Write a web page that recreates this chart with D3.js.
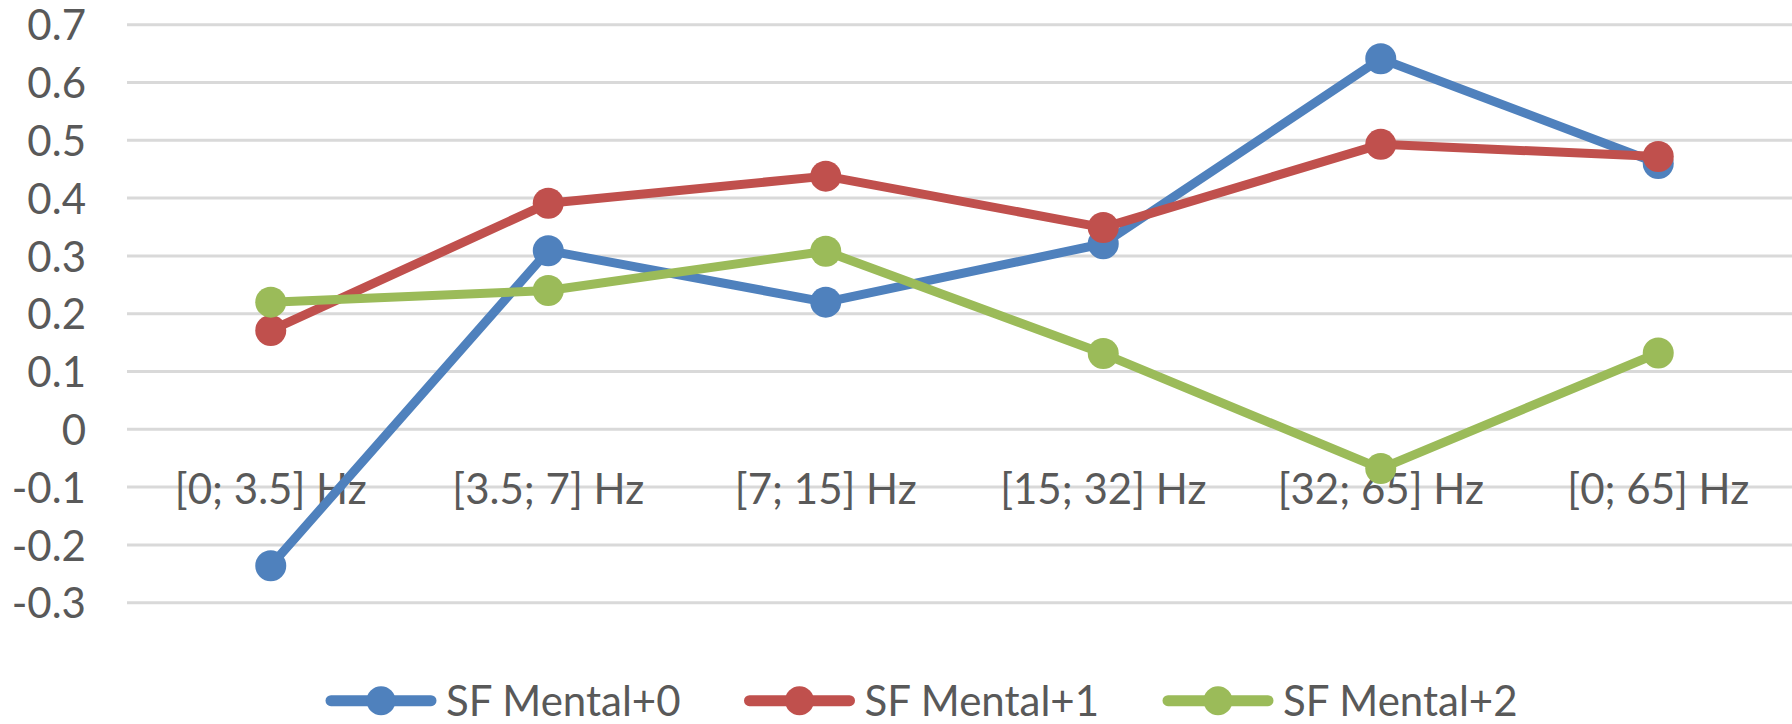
<!DOCTYPE html>
<html>
<head>
<meta charset="utf-8">
<script src="https://cdn.jsdelivr.net/npm/d3@7"></script>
<style>
  html, body { margin: 0; padding: 0; background: #fff; }
  svg { display: block; }
  text { font-family: Lato, "Noto Sans", sans-serif; fill: #595959; }
</style>
</head>
<body>
<svg id="chart" width="1792" height="724"></svg>
<script>
// Frequency bands on the x axis
const categories = ["[0; 3.5] Hz", "[3.5; 7] Hz", "[7; 15] Hz", "[15; 32] Hz", "[32; 65] Hz", "[0; 65] Hz"];

// Series names and their values per band
const seriesNames = ["SF Mental+0", "SF Mental+1", "SF Mental+2"];
const mental0 = [-0.236, 0.309, 0.220, 0.321, 0.641, 0.460];
const mental1 = [0.171, 0.391, 0.438, 0.349, 0.493, 0.472];
const mental2 = [0.220, 0.240, 0.308, 0.131, -0.068, 0.132];
const seriesColors = ["#4F81BD", "#C0504D", "#9BBB59"];

// Value axis ticks and their labels
const yTickValues = [-0.3, -0.2, -0.1, 0, 0.1, 0.2, 0.3, 0.4, 0.5, 0.6, 0.7];
const yTickLabels = ["-0.3", "-0.2", "-0.1", "0", "0.1", "0.2", "0.3", "0.4", "0.5", "0.6", "0.7"];

const series = seriesNames.map((name, i) => ({
  name,
  color: seriesColors[i],
  values: [mental0, mental1, mental2][i]
}));

const width = 1792, height = 724;
const plot = { left: 127, right: 1792, top: 24.7, bottom: 602.7 };

const svg = d3.select("#chart");

const x = d3.scaleBand()
  .domain(categories)
  .range([132, 1797]);
const cx = c => x(c) + x.bandwidth() / 2;

const y = d3.scaleLinear()
  .domain([-0.3, 0.7])
  .range([plot.bottom, plot.top]);

// Horizontal gridlines
svg.append("g")
  .selectAll("line")
  .data(yTickValues)
  .join("line")
  .attr("x1", plot.left)
  .attr("x2", plot.right)
  .attr("y1", d => y(d))
  .attr("y2", d => y(d))
  .attr("stroke", "#D9D9D9")
  .attr("stroke-width", 3);

// Value axis labels
const yAxis = d3.axisLeft(y)
  .tickValues(yTickValues)
  .tickFormat((d, i) => yTickLabels[i])
  .tickSize(0)
  .tickPadding(0);
const gy = svg.append("g")
  .attr("transform", "translate(86,0)")
  .call(yAxis);
gy.select(".domain").remove();
gy.selectAll("text")
  .attr("font-family", "Lato, 'Noto Sans', sans-serif")
  .attr("font-size", 42)
  .attr("fill", "#595959")
  .attr("dy", "0.36em");

// Category labels, placed just below the zero line
const xAxis = d3.axisBottom(x).tickSize(0).tickPadding(0);
const gx = svg.append("g")
  .attr("transform", `translate(0,${y(0) + 75})`)
  .call(xAxis);
gx.select(".domain").remove();
gx.selectAll("text")
  .attr("font-family", "Lato, 'Noto Sans', sans-serif")
  .attr("font-size", 42)
  .attr("fill", "#595959")
  .attr("dy", 0);

// Lines with markers, one series after another
const line = d3.line()
  .x((d, i) => cx(categories[i]))
  .y(d => y(d));

series.forEach(s => {
  const g = svg.append("g");
  g.append("path")
    .datum(s.values)
    .attr("d", line)
    .attr("fill", "none")
    .attr("stroke", s.color)
    .attr("stroke-width", 9)
    .attr("stroke-linejoin", "round")
    .attr("stroke-linecap", "round");
  g.selectAll("circle")
    .data(s.values)
    .join("circle")
    .attr("cx", (d, i) => cx(categories[i]))
    .attr("cy", d => y(d))
    .attr("r", 15.5)
    .attr("fill", s.color);
});

// Legend along the bottom
const legendY = 700.7;
const legendStart = 326;
const legendPitch = 418.5;
const legend = svg.append("g");
series.forEach((s, i) => {
  const lx = legendStart + i * legendPitch;
  const item = legend.append("g").attr("transform", `translate(${lx},${legendY})`);
  item.append("line")
    .attr("x1", 5).attr("x2", 105)
    .attr("y1", 0).attr("y2", 0)
    .attr("stroke", s.color)
    .attr("stroke-width", 11)
    .attr("stroke-linecap", "round");
  item.append("circle")
    .attr("cx", 55).attr("cy", 0).attr("r", 14.5)
    .attr("fill", s.color);
  item.append("text")
    .attr("x", 120)
    .attr("y", 0)
    .attr("dy", "0.36em")
    .attr("font-size", 42)
    .text(s.name);
});
</script>
</body>
</html>
